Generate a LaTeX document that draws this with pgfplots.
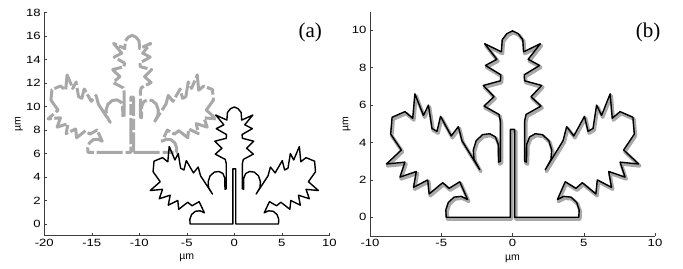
\documentclass[border=0pt]{standalone}
\usepackage{pgfplots}
\pgfplotsset{compat=1.18}
\usepackage{pgfplotstable}
\usepackage{fontspec}
\setmainfont{Liberation Sans}
\newfontfamily\seriffont{Liberation Serif}
\newfontfamily\tickfont[FakeStretch=1.25]{Liberation Sans}

\pgfplotstableread{
x y
0.15 0.0
4.65 0.0
4.68 0.4
4.5 0.8
4.1 1.08
3.6 1.12
3.15 0.95
3.7 1.9
4.45 1.55
4.9 1.85
5.85 1.25
5.95 2.0
6.95 1.6
6.75 2.45
7.9 2.15
7.55 2.95
8.85 2.85
7.8 3.6
8.55 4.45
8.45 5.35
7.55 5.65
7.0 5.3
6.85 6.6
6.25 5.45
5.9 6.0
5.65 4.75
5.3 4.6
5.05 5.4
4.3 4.35
3.8 4.85
3.55 4.1
2.3 2.55
2.45 2.75
2.7 3.1
2.75 3.6
2.55 4.1
2.1 4.42
1.6 4.47
1.2 4.3
1.0 3.9
0.98 2.95
0.85 3.0
0.85 5.15
0.95 5.5
2.0 5.95
1.3 6.45
2.05 7.05
0.85 7.3
0.82 7.62
1.9 8.12
1.1 8.45
1.95 9.28
0.78 8.85
0.72 9.5
0.4 9.82
0.0 9.97
-0.4 9.82
-0.72 9.5
-0.78 8.85
-1.95 9.28
-1.1 8.45
-1.9 8.12
-0.82 7.62
-0.85 7.3
-2.05 7.05
-1.3 6.45
-2.0 5.95
-0.95 5.5
-0.85 5.15
-0.85 3.0
-0.98 2.95
-1.0 3.9
-1.2 4.3
-1.6 4.47
-2.1 4.42
-2.55 4.1
-2.75 3.6
-2.7 3.1
-2.45 2.75
-2.3 2.55
-3.55 4.1
-3.8 4.85
-4.3 4.35
-5.05 5.4
-5.3 4.6
-5.65 4.75
-5.9 6.0
-6.25 5.45
-6.85 6.6
-7.0 5.3
-7.55 5.65
-8.45 5.35
-8.55 4.45
-7.8 3.6
-8.85 2.85
-7.55 2.95
-7.9 2.15
-6.75 2.45
-6.95 1.6
-5.95 2.0
-5.85 1.25
-4.9 1.85
-4.45 1.55
-3.7 1.9
-3.15 0.95
-3.6 1.12
-4.1 1.08
-4.5 0.8
-4.68 0.4
-4.65 0.0
-0.15 0.0
-0.15 4.7
0.15 4.7
0.15 0.0
}\leaf

\definecolor{lgray}{RGB}{168,168,168}
\definecolor{axgray}{RGB}{60,60,60}

\pgfplotsset{leafaxis/.style={
  scale only axis, width=285pt, anchor=south west, clip=false,
  axis x line*=bottom, axis y line*=left,
  tick align=inside, major tick length=3pt,
  tick label style={font=\tickfont\fontsize{10.5}{11}\selectfont},
  /pgf/number format/assume math mode=true,
  xlabel={µm}, ylabel={µm},
  label style={font=\fontsize{10.5}{11}\selectfont},
  xlabel style={at={(axis description cs:0.5,-0.1)}, anchor=center},
  axis line style={line width=0.6pt, axgray},
  tick style={line width=0.5pt, axgray},
  every axis plot/.append style={line join=round, line cap=round},
}}

\begin{document}
\begin{tikzpicture}
\useasboundingbox (0,0) rectangle (683pt,268pt);
% panel (a)
\begin{axis}[leafaxis, at={(44.3pt,32.3pt)}, height=223pt,
  xmin=-20, xmax=10, ymin=-1, ymax=18,
  xtick={-20,-15,...,10}, ytick={0,2,...,18},
  ylabel style={at={(axis description cs:-0.089,0.5)}, anchor=center}]
\addplot[lgray, line width=3pt, line cap=butt, dash pattern=on 26pt off 3pt on 11pt off 2.5pt]
  table[x expr=\thisrow{x}-10.75, y expr=\thisrow{y}+6.1] {\leaf};
\addplot[black, line width=1.4pt] table {\leaf};
\node[font=\seriffont\fontsize{21}{22}\selectfont] at (axis cs:8,16.3) {(a)};
\end{axis}
% panel (b)
\begin{axis}[leafaxis, at={(370pt,32pt)}, height=224.4pt,
  xmin=-10, xmax=10, ymin=-1, ymax=11,
  xtick={-10,-5,...,10}, ytick={0,2,...,10},
  ylabel style={at={(axis description cs:-0.082,0.5)}, anchor=center}]
\addplot[lgray, line width=3.5pt]
  table[x expr=\thisrow{x}+0.08, y expr=\thisrow{y}-0.1] {\leaf};
\addplot[black, line width=1.4pt] table {\leaf};
\node[font=\seriffont\fontsize{21}{22}\selectfont] at (axis cs:9.52,9.86) {(b)};
\end{axis}
\end{tikzpicture}
\end{document}
